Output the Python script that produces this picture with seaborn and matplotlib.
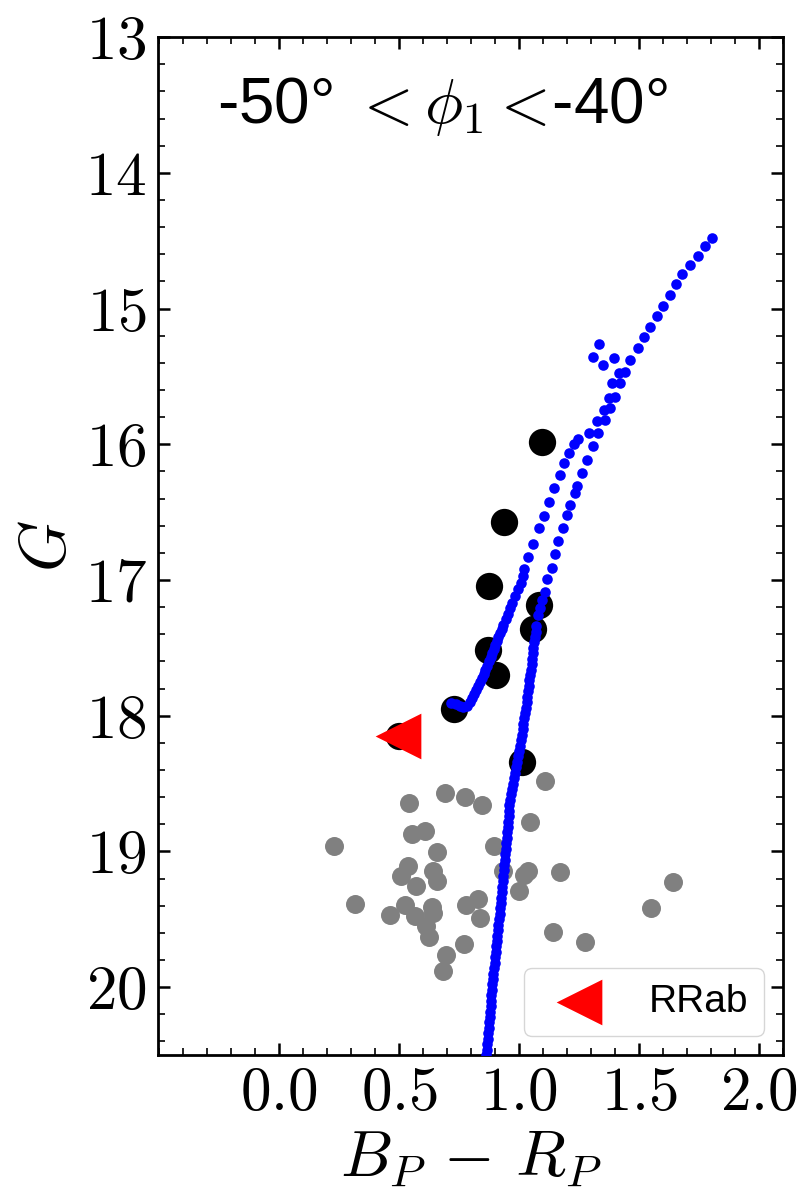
import matplotlib
matplotlib.use("Agg")
import matplotlib.pyplot as plt
import seaborn as sns
import pandas as pd
from matplotlib.ticker import MultipleLocator

# ---------------- data ----------------
# isochrone: main sequence / lower right strand
ms_bp_rp = [0.864, 0.866, 0.868, 0.870, 0.872, 0.874, 0.876, 0.878, 0.879, 0.881,
            0.883, 0.885, 0.887, 0.889, 0.891, 0.893, 0.896, 0.898, 0.900, 0.903,
            0.905, 0.907, 0.910, 0.912, 0.914, 0.917, 0.919, 0.921, 0.923, 0.926,
            0.928, 0.930, 0.932, 0.934, 0.936, 0.938, 0.940, 0.942, 0.944, 0.946,
            0.948, 0.950, 0.952, 0.954, 0.956, 0.958, 0.960, 0.962, 0.966, 0.970,
            0.975, 0.979, 0.983, 0.988, 0.992, 0.996, 1.000, 1.004, 1.008, 1.012,
            1.015, 1.018, 1.021, 1.025, 1.028, 1.031, 1.034, 1.037, 1.040, 1.043,
            1.046, 1.049, 1.052, 1.055, 1.058, 1.060, 1.063, 1.066, 1.069, 1.072]
ms_g = [20.50, 20.46, 20.42, 20.38, 20.34, 20.30, 20.26, 20.22, 20.18, 20.14,
        20.10, 20.06, 20.02, 19.98, 19.94, 19.90, 19.86, 19.82, 19.78, 19.74,
        19.70, 19.66, 19.62, 19.58, 19.54, 19.50, 19.46, 19.42, 19.38, 19.34,
        19.30, 19.26, 19.22, 19.18, 19.14, 19.10, 19.06, 19.02, 18.98, 18.94,
        18.90, 18.86, 18.82, 18.78, 18.74, 18.70, 18.66, 18.62, 18.58, 18.54,
        18.50, 18.46, 18.42, 18.38, 18.34, 18.30, 18.26, 18.22, 18.18, 18.14,
        18.10, 18.06, 18.02, 17.98, 17.94, 17.90, 17.86, 17.82, 17.78, 17.74,
        17.70, 17.66, 17.62, 17.58, 17.54, 17.50, 17.46, 17.42, 17.38, 17.34]

# isochrone: upper right strand
sg_bp_rp = [1.080, 1.088, 1.096, 1.108, 1.116, 1.136, 1.150, 1.164, 1.182, 1.199,
            1.213, 1.234, 1.243, 1.262, 1.283, 1.308, 1.331, 1.359, 1.380, 1.401,
            1.422, 1.443]
sg_g = [17.26, 17.205, 17.15, 17.09, 16.996, 16.91, 16.81, 16.715, 16.616, 16.52,
        16.445, 16.36, 16.31, 16.21, 16.114, 16.016, 15.918, 15.82, 15.734, 15.65,
        15.55, 15.465]

# isochrone: left strand
left_bp_rp = [0.716, 0.735, 0.752, 0.768, 0.783, 0.796, 0.805, 0.812, 0.820, 0.828,
              0.836, 0.844, 0.852, 0.859, 0.867, 0.875, 0.883, 0.889, 0.895, 0.901,
              0.907, 0.913, 0.920, 0.927, 0.934, 0.944, 0.955, 0.962, 0.969, 0.983,
              0.997, 1.006, 1.015, 1.020, 1.039, 1.060, 1.084, 1.105, 1.126, 1.144,
              1.169, 1.188, 1.206, 1.227, 1.246, 1.290, 1.325, 1.352, 1.373, 1.387,
              1.415]
left_g = [17.905, 17.915, 17.93, 17.935, 17.925, 17.90, 17.87, 17.84, 17.81, 17.78,
          17.75, 17.72, 17.69, 17.66, 17.63, 17.60, 17.57, 17.54, 17.51, 17.48,
          17.45, 17.42, 17.39, 17.36, 17.33, 17.29, 17.25, 17.21, 17.17, 17.12,
          17.07, 17.02, 16.97, 16.92, 16.827, 16.733, 16.618, 16.525, 16.422, 16.323,
          16.225, 16.139, 16.061, 15.997, 15.962, 15.92, 15.83, 15.746, 15.66, 15.55,
          15.476]

# isochrone: red giant branch
rgb_bp_rp = [1.464, 1.495, 1.519, 1.544, 1.573, 1.600, 1.629, 1.656, 1.681, 1.713,
             1.746, 1.775, 1.803]
rgb_g = [15.378, 15.292, 15.209, 15.135, 15.054, 14.981, 14.900, 14.821, 14.747, 14.679,
         14.610, 14.539, 14.482]

# isochrone: horizontal-branch points
hb_bp_rp = [1.332, 1.307, 1.349, 1.397]
hb_g = [15.261, 15.359, 15.415, 15.366]

# field stars (grey)
field_bp_rp = [1.106, 0.690, 0.774, 0.846, 0.541, 1.046, 0.555, 0.607, 0.230, 0.895,
               0.658, 0.537, 0.509, 0.642, 0.656, 0.569, 0.934, 1.039, 1.021, 1.172,
               1.000, 1.641, 1.548, 0.315, 0.523, 0.464, 0.565, 0.639, 0.641, 0.614,
               0.625, 0.777, 0.830, 0.837, 0.771, 1.141, 1.276, 0.695, 0.683]
field_g = [18.479, 18.569, 18.599, 18.660, 18.643, 18.781, 18.871, 18.852, 18.957, 18.957,
           19.004, 19.110, 19.178, 19.146, 19.220, 19.252, 19.141, 19.146, 19.171, 19.153,
           19.294, 19.227, 19.416, 19.384, 19.392, 19.465, 19.478, 19.409, 19.453, 19.551,
           19.633, 19.392, 19.348, 19.490, 19.679, 19.593, 19.669, 19.760, 19.878]

# member stars (black)
member_bp_rp = [1.097, 0.939, 0.876, 1.082, 1.060, 0.872, 0.904, 0.728, 0.498, 1.011]
member_g = [15.985, 16.574, 17.043, 17.183, 17.362, 17.519, 17.703, 17.951, 18.152, 18.341]

# RR Lyrae (RRab)
rrab_bp_rp = [0.497]
rrab_g = [18.15]

x_ticks = [0.0, 0.5, 1.0, 1.5, 2.0]
y_ticks = [13, 14, 15, 16, 17, 18, 19, 20]
title_text = "-50° $<\\phi_1<\\!$-40°"

# ---------------- style ----------------
sns.set_style("ticks")
plt.rcParams["font.family"] = ["Liberation Sans", "DejaVu Sans"]
plt.rcParams["mathtext.fontset"] = "cm"
plt.rcParams["axes.linewidth"] = 2.0
for key in ["text.color", "axes.labelcolor", "xtick.color", "ytick.color",
            "axes.edgecolor"]:
    plt.rcParams[key] = "black"

iso = pd.DataFrame({
    "bp_rp": ms_bp_rp + sg_bp_rp + left_bp_rp + rgb_bp_rp + hb_bp_rp,
    "g": ms_g + sg_g + left_g + rgb_g + hb_g,
})

fig = plt.figure(figsize=(8, 12), dpi=100)
ax = fig.add_axes([0.1975, 0.1208, 0.78125, 0.8483])

sns.scatterplot(x=field_bp_rp, y=field_g, color="grey", s=187, linewidth=0,
                ax=ax, zorder=1)
sns.scatterplot(x=member_bp_rp, y=member_g, color="black", s=386, linewidth=0,
                ax=ax, zorder=2)
sns.scatterplot(data=iso, x="bp_rp", y="g", color="blue", s=58, linewidth=0,
                ax=ax, zorder=3)
sns.scatterplot(x=rrab_bp_rp, y=rrab_g, color="red", marker="<", s=1083,
                linewidth=0, ax=ax, zorder=4, label="RRab")

ax.set_xlim(-0.505, 2.1)
ax.set_ylim(20.5, 13.0)

ax.set_xticks(x_ticks)
ax.set_xticklabels([f"${t:.1f}$" for t in x_ticks])
ax.set_yticks(y_ticks)
ax.set_yticklabels([f"${t}$" for t in y_ticks])
ax.xaxis.set_minor_locator(MultipleLocator(0.1))
ax.yaxis.set_minor_locator(MultipleLocator(0.2))

ax.tick_params(which="both", direction="in", top=True, right=True)
ax.tick_params(which="major", length=8.6, width=1.8, labelsize=44, pad=8)
ax.tick_params(which="minor", length=4.7, width=1.2)

ax.set_xlabel("$B_P \\,-\\, R_P$", fontsize=47)
ax.set_ylabel("$G$", fontsize=47)

ax.text(-0.26, 13.63, title_text, fontsize=46, ha="left", va="baseline")

leg = ax.legend(loc="lower right", fontsize=28)

fig.savefig("out.png", dpi=100)
